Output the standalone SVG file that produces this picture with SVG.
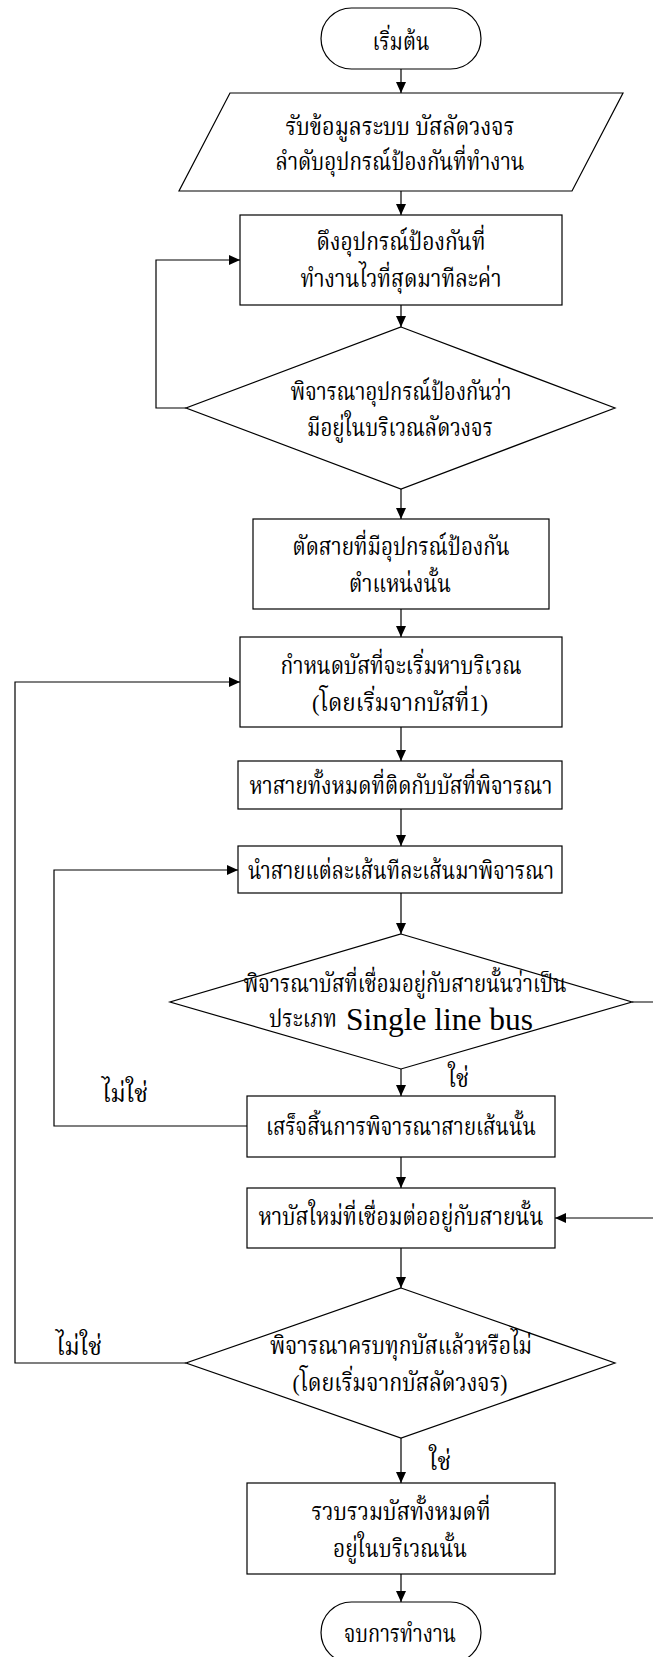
<svg xmlns="http://www.w3.org/2000/svg" width="653" height="1657" viewBox="0 0 653 1657">
<style>
.s{fill:#fff;stroke:#000;stroke-width:1.2}
.c{fill:none;stroke:#000;stroke-width:1.2}
.t{font-family:"Liberation Serif","Noto Serif Thai","Noto Sans Thai",serif;font-size:24px;fill:#000;text-anchor:middle}
.l{font-family:"Liberation Serif","Noto Serif Thai","Noto Sans Thai",serif;font-size:24px;fill:#000}
</style>
<defs>
<marker id="a" markerWidth="12" markerHeight="10" refX="11" refY="5" orient="auto" markerUnits="userSpaceOnUse">
<path d="M0,0 L11,5 L0,10 Z" fill="#000"/>
</marker>
</defs>
<rect width="653" height="1657" fill="#fff"/>
<g id="connectors">
<path class="c" d="M401,69 V93" marker-end="url(#a)"/>
<path class="c" d="M401,191 V215" marker-end="url(#a)"/>
<path class="c" d="M401,305 V327" marker-end="url(#a)"/>
<path class="c" d="M186,408 H156 V260 H240" marker-end="url(#a)"/>
<path class="c" d="M401,489 V519" marker-end="url(#a)"/>
<path class="c" d="M401,609 V637" marker-end="url(#a)"/>
<path class="c" d="M401,727 V761" marker-end="url(#a)"/>
<path class="c" d="M401,809 V846" marker-end="url(#a)"/>
<path class="c" d="M401,893 V934" marker-end="url(#a)"/>
<path class="c" d="M632,1002 H660 V1218 H555" marker-end="url(#a)"/>
<path class="c" d="M401,1069 V1096" marker-end="url(#a)"/>
<path class="c" d="M247,1126 H54 V870 H238" marker-end="url(#a)"/>
<path class="c" d="M401,1157 V1188" marker-end="url(#a)"/>
<path class="c" d="M401,1248 V1288" marker-end="url(#a)"/>
<path class="c" d="M186,1363 H15 V682 H240" marker-end="url(#a)"/>
<path class="c" d="M401,1438 V1483" marker-end="url(#a)"/>
<path class="c" d="M401,1574 V1602" marker-end="url(#a)"/>
<text class="l" x="448" y="1087" textLength="21" lengthAdjust="spacingAndGlyphs">ใช่</text>
<text class="l" x="102" y="1102" textLength="46" lengthAdjust="spacingAndGlyphs">ไม่ใช่</text>
<text class="l" x="56" y="1355" textLength="46" lengthAdjust="spacingAndGlyphs">ไม่ใช่</text>
<text class="l" x="429" y="1470" textLength="22" lengthAdjust="spacingAndGlyphs">ใช่</text>
</g>
<g id="start">
<rect class="s" x="321" y="8" width="160" height="61" rx="30.5" ry="30.5"/>
<text class="t" x="401" y="50" textLength="57" lengthAdjust="spacingAndGlyphs">เริ่มต้น</text>
</g>
<g id="input">
<polygon class="s" points="230,93 623,93 572,191 179,191"/>
<text class="t" x="400" y="135" textLength="229" lengthAdjust="spacingAndGlyphs">รับข้อมูลระบบ บัสลัดวงจร</text>
<text class="t" x="400" y="170" textLength="249" lengthAdjust="spacingAndGlyphs">ลำดับอุปกรณ์ป้องกันที่ทำงาน</text>
</g>
<g id="pick">
<rect class="s" x="240" y="215" width="322" height="90"/>
<text class="t" x="401" y="250" textLength="169" lengthAdjust="spacingAndGlyphs">ดึงอุปกรณ์ป้องกันที่</text>
<text class="t" x="401" y="287" textLength="201" lengthAdjust="spacingAndGlyphs">ทำงานไวที่สุดมาทีละค่า</text>
</g>
<g id="check1">
<polygon class="s" points="401,327 615,408 401,489 186,408"/>
<text class="t" x="401" y="400" textLength="221" lengthAdjust="spacingAndGlyphs">พิจารณาอุปกรณ์ป้องกันว่า</text>
<text class="t" x="400" y="436" textLength="186" lengthAdjust="spacingAndGlyphs">มีอยู่ในบริเวณลัดวงจร</text>
</g>
<g id="cut">
<rect class="s" x="253" y="519" width="296" height="90"/>
<text class="t" x="401" y="555" textLength="217" lengthAdjust="spacingAndGlyphs">ตัดสายที่มีอุปกรณ์ป้องกัน</text>
<text class="t" x="400" y="592" textLength="102" lengthAdjust="spacingAndGlyphs">ตำแหน่งนั้น</text>
</g>
<g id="setbus">
<rect class="s" x="240" y="637" width="322" height="90"/>
<text class="t" x="401" y="674" textLength="241" lengthAdjust="spacingAndGlyphs">กำหนดบัสที่จะเริ่มหาบริเวณ</text>
<text class="t" x="400" y="711" textLength="176" lengthAdjust="spacingAndGlyphs">(โดยเริ่มจากบัสที่1)</text>
</g>
<g id="findlines">
<rect class="s" x="238" y="761" width="324" height="48"/>
<text class="t" x="401" y="794" textLength="303" lengthAdjust="spacingAndGlyphs">หาสายทั้งหมดที่ติดกับบัสที่พิจารณา</text>
</g>
<g id="eachline">
<rect class="s" x="238" y="846" width="324" height="47"/>
<text class="t" x="401" y="879" textLength="306" lengthAdjust="spacingAndGlyphs">นำสายแต่ละเส้นทีละเส้นมาพิจารณา</text>
</g>
<g id="check2">
<polygon class="s" points="401,934 632,1002 401,1069 170,1002"/>
<text class="t" x="405" y="992" textLength="323" lengthAdjust="spacingAndGlyphs">พิจารณาบัสที่เชื่อมอยู่กับสายนั้นว่าเป็น</text>
<text class="l" x="269" y="1027" textLength="68" lengthAdjust="spacingAndGlyphs">ประเภท</text>
<text class="l" x="346" y="1030" style="font-size:31px" textLength="187" lengthAdjust="spacingAndGlyphs">Single line bus</text>
</g>
<g id="finish">
<rect class="s" x="247" y="1096" width="308" height="61"/>
<text class="t" x="401" y="1135" textLength="270" lengthAdjust="spacingAndGlyphs">เสร็จสิ้นการพิจารณาสายเส้นนั้น</text>
</g>
<g id="newbus">
<rect class="s" x="247" y="1188" width="308" height="60"/>
<text class="t" x="401" y="1225" textLength="285" lengthAdjust="spacingAndGlyphs">หาบัสใหม่ที่เชื่อมต่ออยู่กับสายนั้น</text>
</g>
<g id="check3">
<polygon class="s" points="401,1288 615,1363 401,1438 186,1363"/>
<text class="t" x="401" y="1354" textLength="262" lengthAdjust="spacingAndGlyphs">พิจารณาครบทุกบัสแล้วหรือไม่</text>
<text class="t" x="400" y="1391" textLength="215" lengthAdjust="spacingAndGlyphs">(โดยเริ่มจากบัสลัดวงจร)</text>
</g>
<g id="collect">
<rect class="s" x="247" y="1483" width="308" height="91"/>
<text class="t" x="401" y="1520" textLength="179" lengthAdjust="spacingAndGlyphs">รวบรวมบัสทั้งหมดที่</text>
<text class="t" x="400" y="1557" textLength="134" lengthAdjust="spacingAndGlyphs">อยู่ในบริเวณนั้น</text>
</g>
<g id="end">
<rect class="s" x="321" y="1602" width="160" height="61" rx="30.5" ry="30.5"/>
<text class="t" x="400" y="1642" textLength="112" lengthAdjust="spacingAndGlyphs">จบการทำงาน</text>
</g>
</svg>
